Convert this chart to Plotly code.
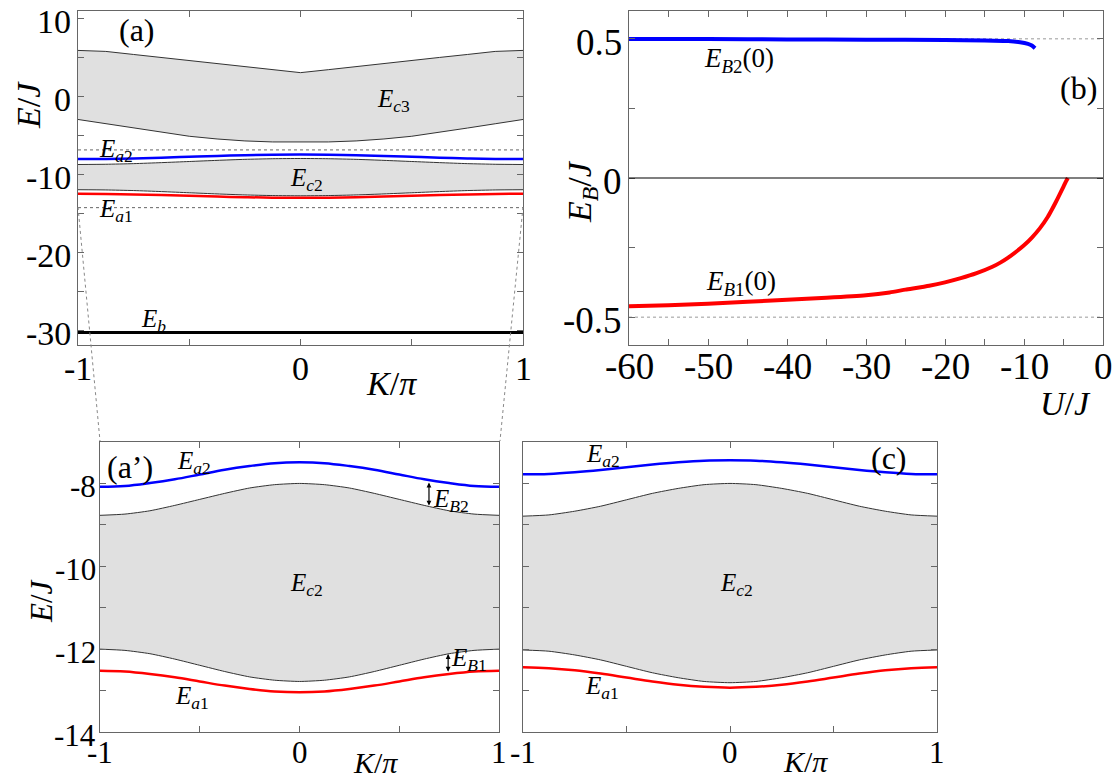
import plotly.graph_objects as go

W, H = 1118, 783
FONT = "Liberation Serif, Times New Roman, Times, serif"

# ---------------- data ----------------
K = [-1, -0.875, -0.75, -0.625, -0.5, -0.375, -0.25, -0.125, 0,
     0.125, 0.25, 0.375, 0.5, 0.625, 0.75, 0.875, 1]

# panel (a): upper continuum E_c3
c3_upper = [5.85, 5.72, 5.33, 4.95, 4.55, 4.12, 3.75, 3.38, 3.0,
            3.38, 3.75, 4.12, 4.55, 4.95, 5.33, 5.72, 5.85]
c3_lower = [-3.0, -3.55, -4.1, -4.65, -5.15, -5.5, -5.75, -5.88, -5.92,
            -5.88, -5.75, -5.5, -5.15, -4.65, -4.1, -3.55, -3.0]
Eb = [-30.3, -30.3, -30.3, -30.3, -30.3, -30.3, -30.3, -30.3, -30.3,
      -30.3, -30.3, -30.3, -30.3, -30.3, -30.3, -30.3, -30.3]

# panels (a) and (a')
a2_A = [-8.08, -8.06, -7.99, -7.90, -7.785, -7.67, -7.58, -7.51, -7.49,
        -7.51, -7.58, -7.67, -7.785, -7.90, -7.99, -8.06, -8.08]
c2u_A = [-8.77, -8.74, -8.66, -8.53, -8.385, -8.24, -8.11, -8.03, -8.0,
         -8.03, -8.11, -8.24, -8.385, -8.53, -8.66, -8.74, -8.77]
c2l_A = [-12.0, -12.03, -12.11, -12.24, -12.39, -12.54, -12.67, -12.75, -12.78,
         -12.75, -12.67, -12.54, -12.39, -12.24, -12.11, -12.03, -12.0]
a1_A = [-12.52, -12.54, -12.60, -12.68, -12.78, -12.88, -12.96, -13.02, -13.04,
        -13.02, -12.96, -12.88, -12.78, -12.68, -12.60, -12.54, -12.52]

# panel (c)
a2_C = [-7.78, -7.77, -7.73, -7.675, -7.61, -7.545, -7.49, -7.45, -7.44,
        -7.45, -7.49, -7.545, -7.61, -7.675, -7.73, -7.77, -7.78]
c2u_C = [-8.79, -8.76, -8.67, -8.55, -8.395, -8.24, -8.12, -8.03, -8.0,
         -8.03, -8.12, -8.24, -8.395, -8.55, -8.67, -8.76, -8.79]
c2l_C = [-12.02, -12.05, -12.14, -12.26, -12.415, -12.57, -12.69, -12.78, -12.81,
         -12.78, -12.69, -12.57, -12.415, -12.26, -12.14, -12.05, -12.02]
a1_C = [-12.44, -12.46, -12.51, -12.59, -12.685, -12.78, -12.86, -12.91, -12.93,
        -12.91, -12.86, -12.78, -12.685, -12.59, -12.51, -12.46, -12.44]

# panel (b)
U_B1 = [-60, -55, -50, -45, -40, -35, -30, -27, -25, -22, -20, -18, -16, -14,
        -13, -12, -11, -10, -9, -8, -7, -6.5, -6, -5.5, -5, -4.7, -4.45]
EB1 = [-0.461, -0.457, -0.452, -0.445, -0.437, -0.43, -0.421, -0.411, -0.401,
       -0.387, -0.375, -0.360, -0.342, -0.319, -0.304, -0.286, -0.265, -0.242,
       -0.214, -0.181, -0.140, -0.115, -0.088, -0.060, -0.031, -0.013, 0.0]
U_B2 = [-60, -50, -40, -30, -20, -15, -12, -10.5, -9.5, -9, -8.6]
EB2 = [0.499, 0.499, 0.498, 0.497, 0.496, 0.494, 0.492, 0.488, 0.482, 0.476, 0.466]

# zoom-window levels marked in (a)
zoom_levels = [-6.9, -14.3]

# tick definitions
K_ticks = [-1, -0.5, 0, 0.5, 1]
K_labels = ["-1", "", "0", "", "1"]
Ea_ticks = [10, 5, 0, -5, -10, -15, -20, -25, -30]
Ea_labels = ["10", "", "0", "", "-10", "", "-20", "", "-30"]
U_ticks = [-60, -55, -50, -45, -40, -35, -30, -25, -20, -15, -10, -5, 0]
U_labels = ["-60", "", "-50", "", "-40", "", "-30", "", "-20", "", "-10", "", "0"]
EB_ticks = [0.5, 0.25, 0, -0.25, -0.5]
EB_labels = ["0.5", "", "0", "", "-0.5"]
Ez_ticks = [-8, -9, -10, -11, -12, -13, -14]
Ez_labels = ["-8", "", "-10", "", "-12", "", "-14"]

# ---------------- helpers ----------------
def px(x):
    return x / W

def py(y):
    return 1 - y / H

GRAY = "#e0e0e0"
EDGE = "#333333"
BLUE = "#0000ff"
RED = "#ff0000"

fig = go.Figure()

def band(xa, ya, lower, upper):
    fig.add_trace(go.Scatter(x=K, y=lower, mode="lines", xaxis=xa, yaxis=ya,
                             line=dict(color=EDGE, width=1, shape="spline", smoothing=0.6),
                             hoverinfo="skip"))
    fig.add_trace(go.Scatter(x=K, y=upper, mode="lines", xaxis=xa, yaxis=ya,
                             fill="tonexty", fillcolor=GRAY,
                             line=dict(color=EDGE, width=1, shape="spline", smoothing=0.6),
                             hoverinfo="skip"))

def curve(xa, ya, y, color, width, shape="spline"):
    fig.add_trace(go.Scatter(x=K, y=y, mode="lines", xaxis=xa, yaxis=ya,
                             line=dict(color=color, width=width, shape=shape),
                             hoverinfo="skip"))

# panel (a)
fig.add_trace(go.Scatter(x=K, y=c3_lower, mode="lines", xaxis="x", yaxis="y",
                         line=dict(color=EDGE, width=1), hoverinfo="skip"))
fig.add_trace(go.Scatter(x=K, y=c3_upper, mode="lines", xaxis="x", yaxis="y",
                         fill="tonexty", fillcolor=GRAY,
                         line=dict(color=EDGE, width=1), hoverinfo="skip"))
band("x", "y", c2l_A, c2u_A)
curve("x", "y", a2_A, BLUE, 2.5)
curve("x", "y", a1_A, RED, 2.5)
curve("x", "y", Eb, "black", 3, shape="linear")

# panel (a')
band("x3", "y3", c2l_A, c2u_A)
curve("x3", "y3", a2_A, BLUE, 2.5)
curve("x3", "y3", a1_A, RED, 2.5)

# panel (c)
band("x4", "y4", c2l_C, c2u_C)
curve("x4", "y4", a2_C, BLUE, 2.5)
curve("x4", "y4", a1_C, RED, 2.5)

# panel (b)
fig.add_trace(go.Scatter(x=U_B2, y=EB2, mode="lines", xaxis="x2", yaxis="y2",
                         line=dict(color=BLUE, width=4, shape="spline", smoothing=0.5),
                         hoverinfo="skip"))
fig.add_trace(go.Scatter(x=U_B1, y=EB1, mode="lines", xaxis="x2", yaxis="y2",
                         line=dict(color=RED, width=4, shape="spline", smoothing=0.5),
                         hoverinfo="skip"))

shapes = []
for lv in zoom_levels:
    shapes.append(dict(type="line", xref="x", yref="y", x0=-1, x1=1, y0=lv, y1=lv,
                       line=dict(color="#666", width=1, dash="dot"), layer="below"))
for lv in [0.5, -0.5]:
    shapes.append(dict(type="line", xref="x2", yref="y2", x0=-60, x1=0, y0=lv, y1=lv,
                       line=dict(color="#999", width=1, dash="dot"), layer="below"))
shapes.append(dict(type="line", xref="x2", yref="y2", x0=-60, x1=0, y0=0, y1=0,
                   line=dict(color="black", width=1.2)))
# zoom connector lines
shapes.append(dict(type="line", xref="paper", yref="paper", x0=px(78), y0=py(207),
                   x1=px(100), y1=py(441), line=dict(color="#888", width=1, dash="dot")))
shapes.append(dict(type="line", xref="paper", yref="paper", x0=px(523), y0=py(207),
                   x1=px(500), y1=py(441), line=dict(color="#888", width=1, dash="dot")))

ann = []

def label(x, y, text, size=25, angle=0):
    ann.append(dict(x=px(x), y=py(y), xref="paper", yref="paper", text=text,
                    showarrow=False, xanchor="center", yanchor="middle",
                    textangle=angle, font=dict(family=FONT, size=size, color="black")))

def xtick_labels(xref, vals, texts, ycenter, size):
    for v, t in zip(vals, texts):
        if t:
            ann.append(dict(x=v, y=py(ycenter + 0.1 * size), xref=xref, yref="paper",
                            text=t, showarrow=False, xanchor="center", yanchor="middle",
                            font=dict(family=FONT, size=size, color="black")))

def ytick_labels(yref, vals, texts, xright, size):
    for v, t in zip(vals, texts):
        if t:
            ann.append(dict(x=px(xright), y=v, xref="paper", yref=yref, yshift=-0.1 * size,
                            text=t, showarrow=False, xanchor="right", yanchor="middle",
                            font=dict(family=FONT, size=size, color="black")))

xtick_labels("x", K_ticks, K_labels, 365, 34)
ytick_labels("y", Ea_ticks, Ea_labels, 73, 34)
xtick_labels("x2", U_ticks, U_labels, 363, 37)
ytick_labels("y2", EB_ticks, EB_labels, 624, 37)
xtick_labels("x3", K_ticks, K_labels, 749, 31)
ytick_labels("y3", Ez_ticks, Ez_labels, 98, 31)
xtick_labels("x4", K_ticks, K_labels, 749, 31)

Ei = "<i>E</i>"
label(137, 30, "(a)", 32)
label(393, 100, Ei + "<sub><i>c</i>3</sub>")
label(116, 150, Ei + "<sub><i>a</i>2</sub>")
label(306, 180, Ei + "<sub><i>c</i>2</sub>")
label(116, 211, Ei + "<sub><i>a</i>1</sub>")
label(153, 320, Ei + "<sub><i>b</i></sub>")

label(739, 60, Ei + "<sub><i>B</i>2</sub>(0)", 27)
label(741, 283, Ei + "<sub><i>B</i>1</sub>(0)", 27)
label(1078, 88, "(b)", 32)

label(130, 467, "(a’)", 32)
label(194, 462, Ei + "<sub><i>a</i>2</sub>")
label(451, 500, Ei + "<sub><i>B</i>2</sub>")
label(306, 584, Ei + "<sub><i>c</i>2</sub>")
label(469, 659, Ei + "<sub><i>B</i>1</sub>")
label(192, 697, Ei + "<sub><i>a</i>1</sub>")

label(603, 455, Ei + "<sub><i>a</i>2</sub>")
label(889, 458, "(c)", 32)
label(736, 584, Ei + "<sub><i>c</i>2</sub>")
label(602, 687, Ei + "<sub><i>a</i>1</sub>")

# axis titles
label(28, 105, "<i>E</i>/<i>J</i>", 34, -90)
label(391, 383, "<i>K</i>/<i>π</i>", 34)
label(582, 192, "<i>E</i><sub><i>B</i></sub>/<i>J</i>", 34, -90)
label(1065, 403, "<i>U</i>/<i>J</i>", 34)
label(41, 601, "<i>E</i>/<i>J</i>", 31, -90)
label(375, 762, "<i>K</i>/<i>π</i>", 30)
label(806, 761, "<i>K</i>/<i>π</i>", 30)

# double arrows E_B2, E_B1 in (a')
for (kx, y0, y1) in [(0.649, -7.98, -8.57), (0.745, -12.12, -12.58)]:
    ann.append(dict(x=kx, y=y0, ax=kx, ay=y1, xref="x3", yref="y3", axref="x3", ayref="y3",
                    showarrow=True, arrowhead=2, arrowside="end+start", arrowsize=0.8,
                    arrowwidth=1.2, arrowcolor="black", text=""))

AX = dict(showline=True, linecolor="#666", linewidth=1, mirror="ticks", ticks="inside",
          ticklen=6, tickcolor="#666", showgrid=False, zeroline=False,
          showticklabels=False, tickmode="array")

fig.update_layout(
    width=W, height=H, margin=dict(l=0, r=0, t=0, b=0),
    paper_bgcolor="white", plot_bgcolor="white", showlegend=False,
    font=dict(family=FONT),
    xaxis=dict(AX, domain=[px(78), px(523)], range=[-1, 1], anchor="y", tickvals=K_ticks),
    yaxis=dict(AX, domain=[py(345), py(11)], range=[-31.9, 10.9], anchor="x", tickvals=Ea_ticks),
    xaxis2=dict(AX, domain=[px(629), px(1103)], range=[-60, 0], anchor="y2", tickvals=U_ticks),
    yaxis2=dict(AX, domain=[py(345), py(11)], range=[-0.6, 0.6], anchor="x2", tickvals=EB_ticks),
    xaxis3=dict(AX, domain=[px(100), px(499)], range=[-1, 1], anchor="y3", tickvals=K_ticks),
    yaxis3=dict(AX, domain=[py(732), py(442)], range=[-14, -7], anchor="x3", tickvals=Ez_ticks),
    xaxis4=dict(AX, domain=[px(523), px(937)], range=[-1, 1], anchor="y4", tickvals=K_ticks),
    yaxis4=dict(AX, domain=[py(732), py(442)], range=[-14, -7], anchor="x4", tickvals=Ez_ticks),
    shapes=shapes, annotations=ann,
)

fig.write_html("out.html")
